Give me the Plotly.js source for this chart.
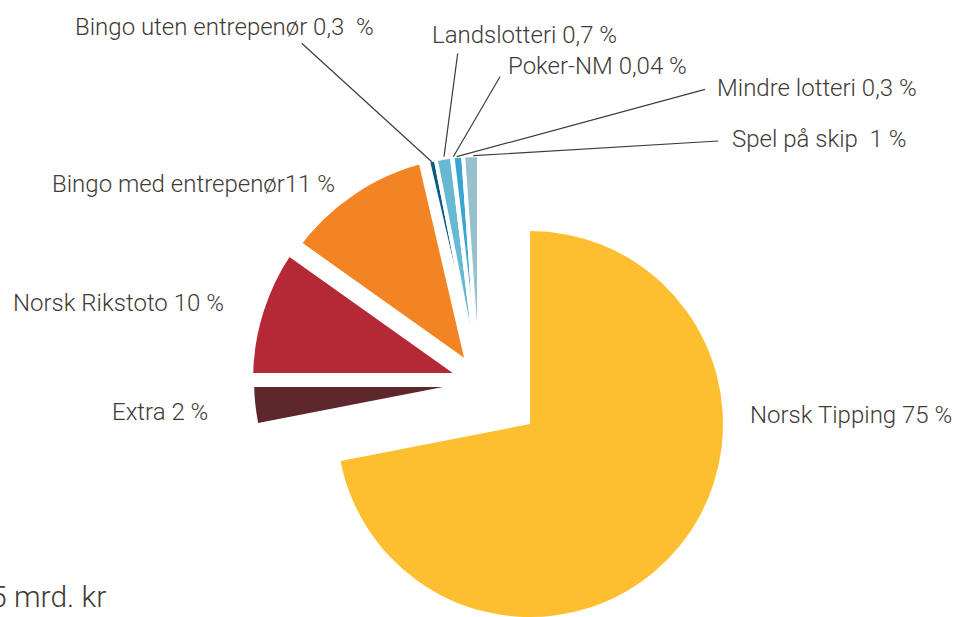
<!DOCTYPE html>
<html>
<head>
<meta charset="utf-8">
<script src="https://cdn.plot.ly/plotly-3.0.1.min.js"></script>
<style>
  html, body { margin: 0; padding: 0; background: #fff; overflow: hidden; }
  #chart { width: 954px; height: 617px; }
</style>
</head>
<body>
<div id="chart"></div>
<script>
var W = 954, H = 617;

// slices, clockwise from 12 o'clock (share of the drawn circle)
var names = ['Norsk Tipping', 'Extra', 'Norsk Rikstoto', 'Bingo med entrepenør',
  'Bingo uten entrepenør', 'Landslotteri', 'Poker-NM', 'Mindre lotteri', 'Spel på skip'];
var shares = [71.94, 3.06, 9.83, 11.53, 0.56, 1.16, 0.04, 0.76, 1.12];
var labelTexts = ['Norsk Tipping 75 %', 'Extra 2 %', 'Norsk Rikstoto 10 %', 'Bingo med entrepenør11 %',
  'Bingo uten entrepenør 0,3\u00a0\u00a0%', 'Landslotteri 0,7 %', 'Poker-NM 0,04 %',
  'Mindre lotteri 0,3 %', 'Spel på skip\u00a0\u00a01 %'];
var colors = ['#fdbf2f', '#5e272c', '#b52835', '#f38423',
  '#0b5a82', '#67b9d3', '#3aa5cf', '#3aa5cf', '#97c0cd'];
var groups = ['tipping', 'extra', 'main', 'main', 'small', 'small', 'small', 'small', 'small'];
var totalText = '5 mrd. kr';

// white separators between slices (stroke width per slice)
var lineW = [0, 0, 14, 19, 4, 4, 4, 4, 4];

function dom(cx, cy, r) {
  return { x: [(cx - r) / W, (cx + r) / W], y: [Math.max(0, 1 - (cy + r) / H), 1 - (cy - r) / H] };
}

function pieTrace(group, cx, cy, r) {
  return {
    type: 'pie',
    labels: names,
    values: shares,
    sort: false,
    direction: 'clockwise',
    rotation: 0,
    textinfo: 'none',
    hoverinfo: 'none',
    showlegend: false,
    domain: dom(cx, cy, r),
    marker: {
      colors: colors.map(function(c, i) { return groups[i] === group ? c : 'rgba(0,0,0,0)'; }),
      line: {
        color: '#ffffff',
        width: groups.map(function(g, i) { return g === group ? lineW[i] : 0; })
      }
    }
  };
}

var data = [
  pieTrace('extra', 479, 380, 225),
  pieTrace('main', 479, 380, 233),
  pieTrace('small', 479, 380, 225),
  pieTrace('tipping', 530, 424, 193)
];

// label positions: x edge and middle of capitals, in pixels
var labelPos = [[952, 414.7], [112.3, 412], [13.3, 302.5], [51.7, 184.2],
  [75, 27.2], [431.7, 35], [508.3, 65.8], [716.7, 87.8], [731.7, 139.2]];
// leader lines: text end -> slice
var leaders = {
  4: [[301.7, 43.3], [431.7, 161.7]],
  5: [[457.7, 53.3], [444, 156.7]],
  6: [[500, 76.7], [453.3, 156.7]],
  7: [[705, 89.3], [456.7, 156.7]],
  8: [[718.3, 141], [473.3, 155.7]]
};

var textColor = '#403b37';
var annotations = labelTexts.map(function(t, i) {
  var right = i === 0;
  return {
    text: t, xref: 'paper', yref: 'paper',
    x: (labelPos[i][0] + (right ? 2 : -2)) / W, y: 1 - labelPos[i][1] / H,
    xanchor: right ? 'right' : 'left', yanchor: 'middle', showarrow: false,
    font: { family: 'Roboto', size: 24, color: textColor, weight: 300 }
  };
});
annotations.push({
  text: totalText, xref: 'paper', yref: 'paper',
  x: 108 / W, y: 1 - 596 / H, xanchor: 'right', yanchor: 'middle', showarrow: false,
  font: { family: 'Roboto', size: 30, color: textColor, weight: 300 }
});

var shapes = Object.keys(leaders).map(function(k) {
  var p = leaders[k];
  return {
    type: 'line', xref: 'paper', yref: 'paper',
    x0: p[0][0] / W, y0: 1 - p[0][1] / H, x1: p[1][0] / W, y1: 1 - p[1][1] / H,
    line: { color: textColor, width: 1.2 }
  };
});

var layout = {
  width: W,
  height: H,
  margin: { l: 0, r: 0, t: 0, b: 0 },
  paper_bgcolor: '#ffffff',
  font: { family: 'Roboto', color: textColor },
  annotations: annotations,
  shapes: shapes
};

Plotly.newPlot('chart', data, layout, { displayModeBar: false, staticPlot: true });
</script>
</body>
</html>
